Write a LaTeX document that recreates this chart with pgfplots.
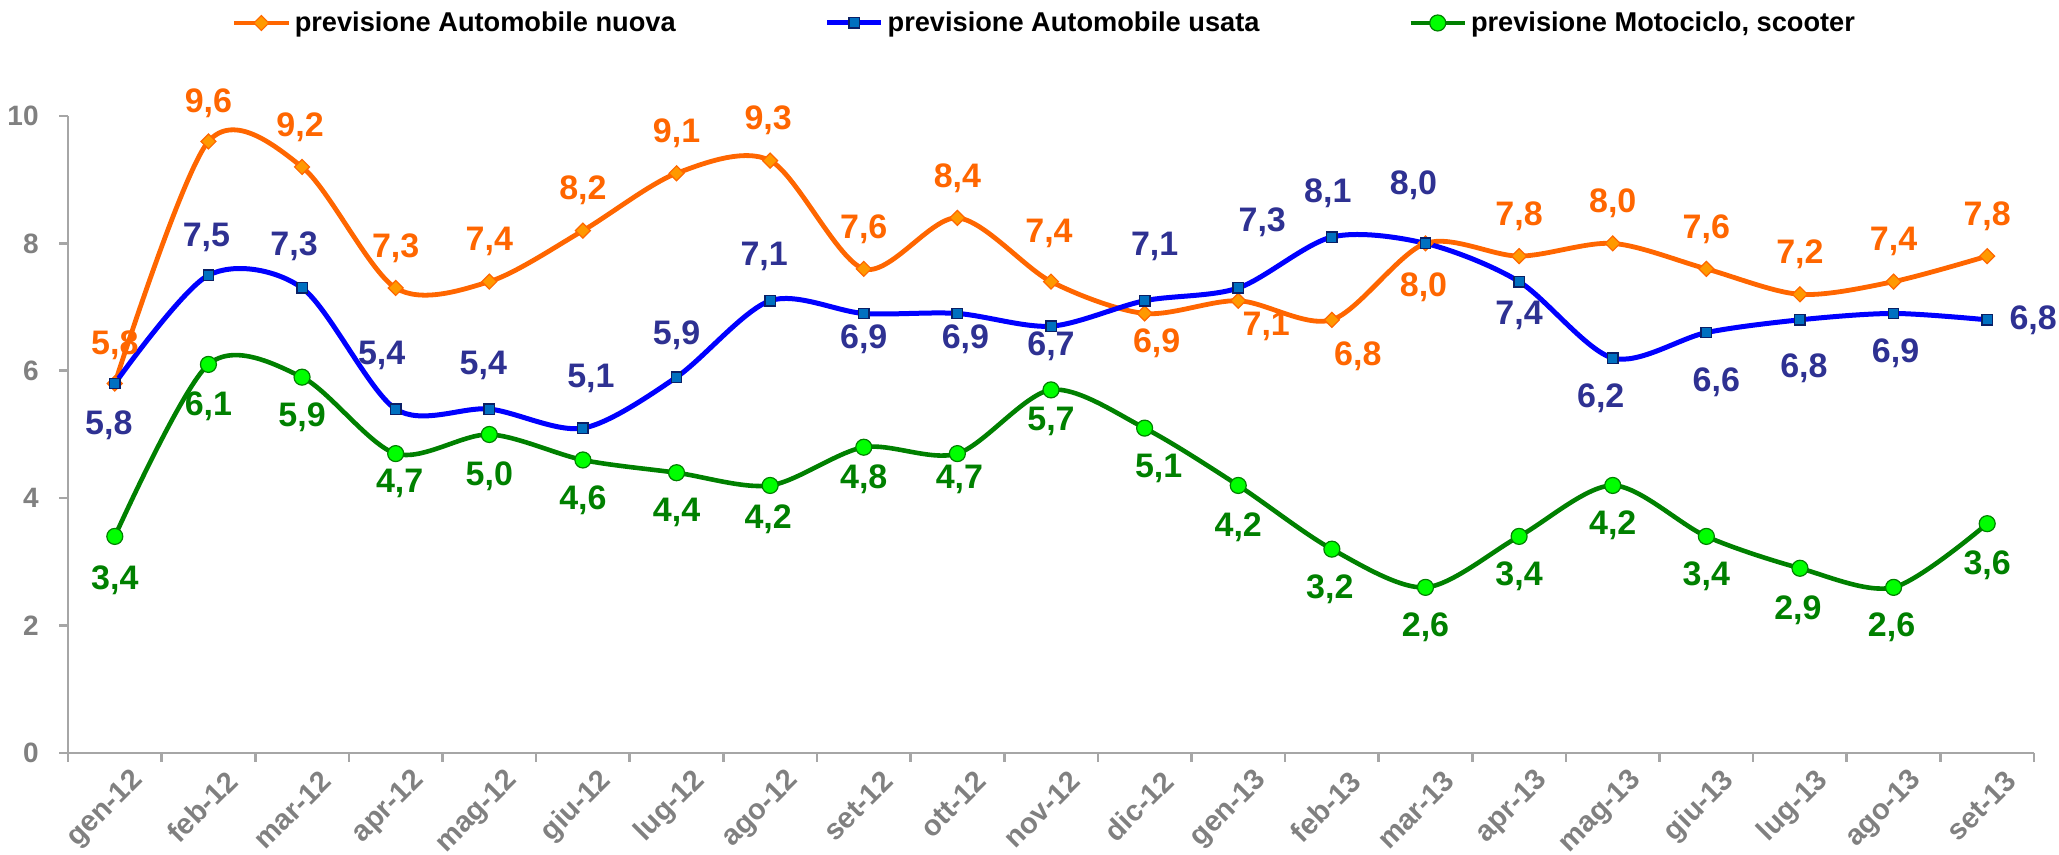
\documentclass[border=0pt]{standalone}
\usepackage{pgfplots}
\usepackage{pgfplotstable}
\pgfplotsset{compat=1.18}
\usepackage{fontspec}
\setmainfont{Liberation Sans}
\definecolor{orL}{HTML}{FF6600}
\definecolor{orM}{HTML}{FF9900}
\definecolor{blL}{HTML}{0000FF}
\definecolor{blM}{HTML}{0070C0}
\definecolor{blD}{HTML}{0A1F66}
\definecolor{blT}{HTML}{2E3192}
\definecolor{grL}{HTML}{008000}
\definecolor{grM}{HTML}{00FF00}
\definecolor{axg}{HTML}{A6A6A6}
\definecolor{tkg}{HTML}{808080}

\pgfplotstableread{
x y lab dx dy
0 5.8 5,8 0 19
1 9.6 9,6 0 19
2 9.2 9,2 -1 20
3 7.3 7,3 0 20
4 7.4 7,4 0 20
5 8.2 8,2 0 20
6 9.1 9,1 0 20
7 9.3 9,3 -1 20
8 7.6 7,6 0 20
9 8.4 8,4 0 20
10 7.4 7,4 -1 24
11 6.9 6,9 6 -15
12 7.1 7,1 14 -13
13 6.8 6,8 13 -18
14 8.0 8,0 -1 -22
15 7.8 7,8 0 20
16 8.0 8,0 0 20
17 7.6 7,6 0 20
18 7.2 7,2 0 20
19 7.4 7,4 0 20
20 7.8 7,8 0 20
}\nuova

\pgfplotstableread{
x y lab dx dy
0 5.8 5,8 -3 -21
1 7.5 7,5 -1 19
2 7.3 7,3 -4 21
3 5.4 5,4 -7 27
4 5.4 5,4 -3 22
5 5.1 5,1 4 25
6 5.9 5,9 0 21
7 7.1 7,1 -3 22
8 6.9 6,9 0 -13
9 6.9 6,9 4 -13
10 6.7 6,7 0 -10
11 7.1 7,1 5 27
12 7.3 7,3 12 33
13 8.1 8,1 -2 22
14 8.0 8,0 -6 29
15 7.4 7,4 0 -17
16 6.2 6,2 -6 -20
17 6.6 6,6 5 -25
18 6.8 6,8 2 -24
19 6.9 6,9 1 -20
20 6.8 6,8 23 0
}\usata

\pgfplotstableread{
x y lab dx dy
0 3.4 3,4 0 -22
1 6.1 6,1 0 -21
2 5.9 5,9 0 -20
3 4.7 4,7 2 -15
4 5.0 5,0 0 -21
5 4.6 4,6 0 -20
6 4.4 4,4 0 -20
7 4.2 4,2 -1 -17
8 4.8 4,8 0 -16
9 4.7 4,7 1 -13
10 5.7 5,7 0 -16
11 5.1 5,1 7 -20
12 4.2 4,2 0 -21
13 3.2 3,2 -1 -20
14 2.6 2,6 0 -20
15 3.4 3,4 0 -20
16 4.2 4,2 0 -20
17 3.4 3,4 0 -20
18 2.9 2,9 -1 -21
19 2.6 2,6 -1 -20
20 3.6 3,6 0 -21
}\moto

\begin{document}
\begin{tikzpicture}
\useasboundingbox (0,0) rectangle (1029.5pt,427.5pt);
\begin{axis}[
  at={(34pt,51pt)}, anchor=south west,
  scale only axis, width=983pt, height=318.5pt,
  xmin=-0.5, xmax=20.5, ymin=0, ymax=10,
  clip=false,
  axis lines=left,
  axis line style={-, draw=axg, line width=1.3pt},
  tick align=outside,
  major tick length=4.5pt, minor tick length=4.5pt,
  ytick={0,2,4,6,8,10},
  ytick style={draw=axg, line width=1.3pt},
  xtick={0,...,20},
  xticklabels={gen-12,feb-12,mar-12,apr-12,mag-12,giu-12,lug-12,ago-12,set-12,ott-12,nov-12,dic-12,gen-13,feb-13,mar-13,apr-13,mag-13,giu-13,lug-13,ago-13,set-13},
  minor xtick={-0.5,0.5,...,20.5},
  major x tick style={draw=none},
  minor x tick style={draw=axg, line width=1.3pt},
  /pgf/number format/assume math mode=true,
  yticklabel style={font=\fontsize{14}{16}\selectfont\bfseries, text=tkg, inner sep=0pt, anchor=east, xshift=-10pt},
  xticklabel style={font=\fontsize{14.5}{17}\selectfont\bfseries, text=tkg, rotate=45, anchor=east, inner sep=0pt, xshift=3.5pt, yshift=-13.5pt},
  point meta=explicit symbolic,
  visualization depends on={\thisrow{dx} \as \dx},
  visualization depends on={\thisrow{dy} \as \dy},
  legend columns=3,
  legend style={draw=none, fill=none, at={(0.0834,1.146)}, anchor=west, inner sep=0pt, outer sep=0pt,
    font=\fontsize{13.6}{16}\selectfont\bfseries,
    nodes={inner sep=2pt},
    /tikz/every even column/.append style={column sep=72.5pt}},
  legend cell align=left,
  legend image code/.code={\draw[mark repeat=2,mark phase=2] plot coordinates {(0pt,0pt) (13.5pt,0pt) (27pt,0pt)};},
]
\addplot[color=orL, line width=2.4pt, smooth, mark=square*, mark size=2.65pt,
  mark options={rotate=45, fill=orM, draw=orL, line width=0.6pt},
  nodes near coords, every node near coord/.append style={anchor=center, xshift=\dx pt, yshift=\dy pt, text=orL, font=\fontsize{17}{19}\selectfont\bfseries}]
  table[x=x, y=y, meta=lab] {\nuova};
\addlegendentry{previsione Automobile nuova}
\addplot[color=blL, line width=2.5pt, smooth, mark=square*, mark size=2.6pt,
  mark options={fill=blM, draw=blD, line width=0.7pt},
  nodes near coords, every node near coord/.append style={anchor=center, xshift=\dx pt, yshift=\dy pt, text=blT, font=\fontsize{17}{19}\selectfont\bfseries}]
  table[x=x, y=y, meta=lab] {\usata};
\addlegendentry{previsione Automobile usata}
\addplot[color=grL, line width=2.3pt, smooth, mark=*, mark size=4pt,
  mark options={fill=grM, draw=grL, line width=0.6pt},
  nodes near coords, every node near coord/.append style={anchor=center, xshift=\dx pt, yshift=\dy pt, text=grL, font=\fontsize{17}{19}\selectfont\bfseries}]
  table[x=x, y=y, meta=lab] {\moto};
\addlegendentry{previsione Motociclo, scooter}
\end{axis}
\end{tikzpicture}
\end{document}
